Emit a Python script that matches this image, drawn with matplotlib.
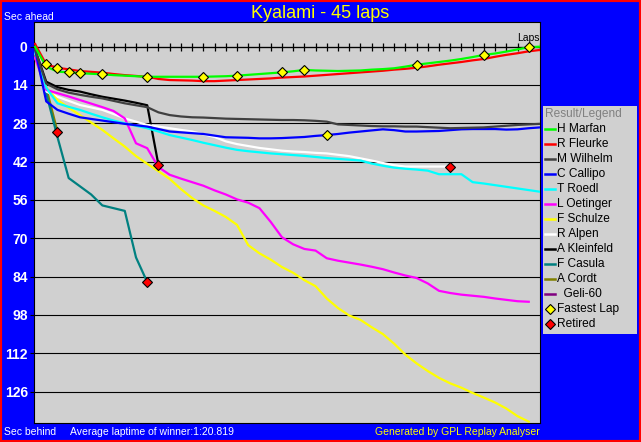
import numpy as np
import matplotlib.pyplot as plt
from matplotlib.patches import Rectangle

plt.rcParams['font.family'] = ['Liberation Sans', 'DejaVu Sans']

W, H = 641, 442

# seconds behind the average-laptime reference, one value per lap (lap 0 = start)
marfan = [0, 7.3, 9.1, 9.4, 9.7, 9.9, 10.1, 10.4, 10.6, 10.8, 11, 11, 11, 11, 11, 11,
          10.9, 10.8, 10.6, 10.3, 10, 9.7, 9.4, 9, 8.5, 8.7, 8.8, 8.9, 8.8, 8.7, 8.4,
          8.2, 7.9, 7.3, 6.6, 6.1, 5.6, 5.1, 4.5, 3.8, 3.0, 2.5, 1.8, 1.0, 0.2, 0]
fleurke = [-1, 6.5, 7.7, 8.3, 8.9, 9.2, 9.5, 10, 10.4, 10.7, 11, 11.8, 12.2, 12.3, 12.4,
           12.6, 12.6, 12.4, 12.2, 12, 11.8, 11.6, 11.3, 11.1, 10.9, 10.6, 10.3, 10, 9.7,
           9.4, 9.1, 8.8, 8.4, 8.1, 7.7, 7.2, 6.6, 6.1, 5.6, 5.0, 4.5, 3.7, 3.0, 2.4, 1.7, 1.2]
wilhelm = [1, 13.5, 15.6, 16.8, 17.6, 18.3, 18.9, 19.8, 20.7, 21.4, 22.1, 24, 25, 25.5,
           25.8, 25.9, 26.1, 26.3, 26.4, 26.5, 26.6, 26.7, 26.8, 26.8, 26.9, 27.1, 27.4,
           28.4, 28.6, 28.8, 29, 29.1, 29.1, 29.2, 29.2, 29.4, 29.6, 29.8, 29.7, 29.6,
           29.5, 29.2, 28.9, 28.6, 28.4, 28.2]
callipo = [1, 20, 23.1, 24.5, 25.8, 26.4, 27, 27.6, 28.2, 28.7, 29.2, 30.1, 31, 31.3,
           31.6, 31.9, 32.5, 33.1, 33.2, 33.3, 33.5, 33.5, 33.4, 33.2, 33, 32.6, 32.3,
           31.9, 31.4, 31, 30.6, 30.2, 30.5, 31, 31, 30.9, 30.8, 30.5, 30.2, 30.1, 30.1,
           30.1, 30.3, 30.2, 29.8, 29.5]
roedl = [2, 15, 20.7, 22, 23.1, 24.5, 25.8, 27, 28, 28.9, 29.8, 31, 32.3, 33.2, 34.1,
         35.1, 36, 36.9, 37.7, 38.2, 38.6, 39, 39.3, 39.6, 39.9, 40.3, 40.7, 41, 41.3,
         41.6, 42.7, 43.5, 44.2, 44.6, 44.9, 45.3, 46.6, 46.6, 46.6, 49.5, 50, 50.6,
         51.2, 51.8, 52.4, 53]
oetinger = [4, 15.8, 17, 18.2, 19.5, 20.8, 22.1, 23.5, 26.2, 35.3, 37.1, 44, 46.8, 48.2,
            49.5, 50.8, 52.5, 54, 55.8, 57, 59, 64, 69.6, 72.2, 73.9, 74.5, 77.3, 78.2,
            78.9, 79.6, 80.4, 81.3, 82.5, 83.6, 84.5, 86.5, 89.2, 90, 90.6, 91, 91.4, 92,
            92.5, 93, 93.2]
schulze = [4, 15, 19.5, 22.3, 25, 27.7, 30.4, 33.5, 36.5, 40, 42.8, 45.5, 48.3, 52, 55.3,
           58, 60, 62.2, 65.1, 72.5, 75.5, 77.8, 80.5, 82.6, 85.3, 87.5, 92, 95.5, 98.2,
           99.8, 102.5, 105, 108.5, 112.5, 115.7, 118.5, 121, 123, 124.6, 126.5, 128.2,
           130, 132.2, 135, 137]
alpen = [2, 16.4, 18.3, 19.8, 21.3, 22.2, 23.1, 24.6, 26.2, 27.4, 28.6, 29.2, 29.8, 30.4,
         31, 32, 33, 34.6, 35.6, 36.3, 37, 37.5, 38, 38.3, 38.5, 38.8, 39, 39.5, 40, 40.8,
         41.6, 42.5, 43.3, 43.8, 43.8, 43.8, 43.8, 43.8]
kleinfeld = [1, 12.8, 14.8, 15.8, 16.4, 17.4, 18.3, 19, 19.7, 20.5, 21.4, 43.2]
casula = [2, 17, 33, 48, 51, 54, 58, 59, 60, 77, 86]
cordt = [3, 15, 31]
geli = []

drivers = ['H Marfan', 'R Fleurke', 'M Wilhelm', 'C Callipo', 'T Roedl', 'L Oetinger',
           'F Schulze', 'R Alpen', 'A Kleinfeld', 'F Casula', 'A Cordt', '  Geli-60']
series = [marfan, fleurke, wilhelm, callipo, roedl, oetinger, schulze, alpen,
          kleinfeld, casula, cordt, geli]
colors = ['#00ff00', '#ff0000', '#404040', '#0000ff', '#00ffff', '#ff00ff',
          '#ffff00', '#ffffff', '#000000', '#008080', '#808000', '#800080']

retired = ['A Cordt', 'F Casula', 'A Kleinfeld', 'R Alpen']
fastest_laps = [('R Fleurke', 1), ('R Fleurke', 2), ('H Marfan', 3), ('H Marfan', 4),
                ('H Marfan', 6), ('H Marfan', 10), ('H Marfan', 15), ('H Marfan', 18),
                ('H Marfan', 22), ('H Marfan', 24), ('C Callipo', 26), ('H Marfan', 34),
                ('H Marfan', 40), ('H Marfan', 44)]

total_laps = 45
yticks = list(range(0, 127, 14))

fig = plt.figure(figsize=(W / 100, H / 100), dpi=100, facecolor='#0000ff')

ax = fig.add_axes([34 / W, 1 - 423.3 / H, 506.3 / W, 401 / H], facecolor='#d0d0d0')
ax.set_xlim(-0.09, 45.03)
ax.set_ylim(137.6, -8.9)

for name, vals, col in reversed(list(zip(drivers, series, colors))):
    if vals:
        ax.plot(range(len(vals)), vals, color=col, lw=1.6, zorder=3)

data = dict(zip(drivers, series))
fx = [lap for d, lap in fastest_laps]
fyv = [data[d][lap] for d, lap in fastest_laps]
ax.plot(fx, fyv, ls='none', marker='D', ms=5, mfc='#ffff00', mec='k', mew=0.8, zorder=5)
rx = [len(data[d]) - 1 for d in retired]
ry = [data[d][-1] for d in retired]
ax.plot(rx, ry, ls='none', marker='D', ms=5, mfc='#ff0000', mec='k', mew=0.8, zorder=5)

# zero line with a tick at every lap
laps = np.arange(total_laps + 1)
ax.plot(laps, np.zeros(len(laps)), color='k', lw=0.9, marker='|', ms=5.5, mew=0.9, zorder=2)
ax.text(45, -1.3, 'Laps', ha='right', va='bottom', fontsize=7.5, color='k')

ax.set_xticks([])
ax.set_yticks(yticks)
ax.set_yticklabels([str(t) for t in yticks], fontweight='bold', fontsize=10)
ax.yaxis.grid(True, color='k', lw=0.8)
ax.set_axisbelow(True)
ax.tick_params(axis='y', length=3, width=0.8, color='k', labelcolor='white', pad=1.5)
for s in ax.spines.values():
    s.set_color('k')
    s.set_linewidth(0.8)

# legend panel
lax = fig.add_axes([543 / W, 1 - 334 / H, 94 / W, 228 / H], facecolor='#d0d0d0')
lax.set_xlim(543, 637)
lax.set_ylim(334, 106)
lax.set_xticks([])
lax.set_yticks([])
for s in lax.spines.values():
    s.set_visible(False)
lax.text(545, 114, 'Result/Legend', color='#808080', fontsize=8.6, va='center')
row0, step = 129.3, 15
for i, (name, col) in enumerate(zip(drivers, colors)):
    y = row0 + i * step
    lax.plot([545, 555], [y, y], color=col, lw=1.8)
    lax.text(557, y, name, fontsize=8.6, va='center', color='k')
y = row0 + len(drivers) * step
lax.plot(549.5, y, marker='D', ms=5, mfc='#ffff00', mec='k', mew=0.8)
lax.text(557, y, 'Fastest Lap', fontsize=8.6, va='center', color='k')
y += step
lax.plot(549.5, y, marker='D', ms=5, mfc='#ff0000', mec='k', mew=0.8)
lax.text(557, y, 'Retired', fontsize=8.6, va='center', color='k')

fig.text(0.5, 1 - 13 / H, 'Kyalami - 45 laps', color='#ffff00', fontsize=13,
         ha='center', va='center')
fig.text(4 / W, 1 - 17 / H, 'Sec ahead', color='white', fontsize=7.5, va='center')
fig.text(4 / W, 1 - 432 / H, 'Sec behind', color='white', fontsize=7.5, va='center')
fig.text(70 / W, 1 - 432 / H, 'Average laptime of winner:1:20.819', color='white',
         fontsize=7.5, va='center')
fig.text(540 / W, 1 - 432 / H, 'Generated by GPL Replay Analyser', color='#ffff00',
         fontsize=7.5, va='center', ha='right')

fig.patches.append(Rectangle((0, 0), 1, 1, transform=fig.transFigure, fill=False,
                             edgecolor='#ff0000', lw=3, zorder=10))

fig.savefig('out.png', dpi=100, facecolor=fig.get_facecolor())
